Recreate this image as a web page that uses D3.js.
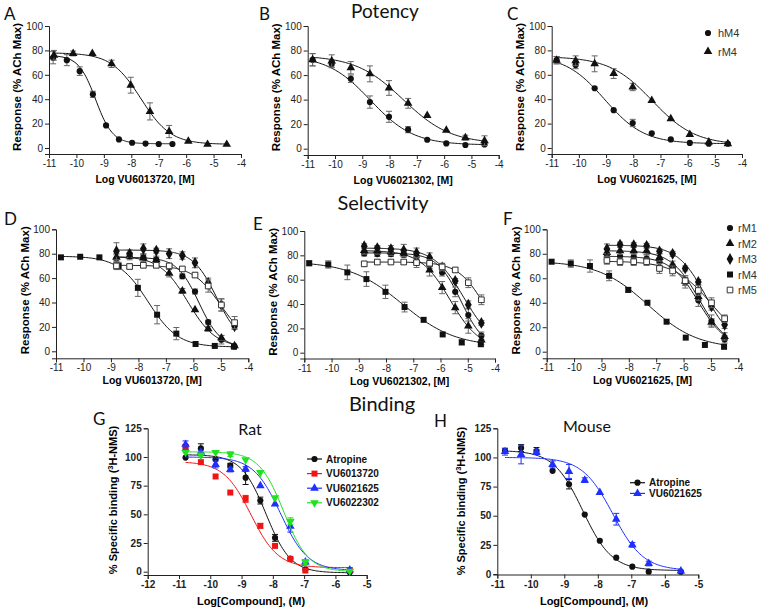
<!DOCTYPE html>
<html>
<head>
<meta charset="utf-8">
<script src="https://cdn.jsdelivr.net/npm/d3@7"></script>
<style>
body { margin: 0; background: #fff; }
svg text { font-family: "Liberation Sans", Arial, sans-serif; }
.big { font-family: Lato, "Open Sans", sans-serif; }
</style>
</head>
<body>
<svg id="fig" width="760" height="607"></svg>
<script>
// ---- tick labels ----
var xTicksLog = [-11, -10, -9, -8, -7, -6, -5, -4];
var xTicksRat = [-12, -11, -10, -9, -8, -7, -6, -5];
var xTicksMouse = [-11, -10, -9, -8, -7, -6, -5];
var yTicksResp = [0, 20, 40, 60, 80, 100];
var yTicksBind = [0, 25, 50, 75, 100, 125];

// ---- concentrations (log M) ----
var xPot = [-10.82, -10.12, -9.42, -8.72, -8.02, -7.32, -6.62, -5.92, -5.22, -4.52];
var xPotA_h = [-10.85, -10.35, -9.88, -9.4, -8.92, -8.45, -7.97, -7.48, -7.0, -6.5];
var xSel = [-8.8, -8.32, -7.82, -7.35, -6.88, -6.4, -5.94, -5.46, -4.98, -4.5];
var xRat = [-10.79, -10.3, -9.83, -9.36, -8.87, -8.4, -7.93, -7.44, -6.96, -5.54];
var xMouse = [-10.77, -10.29, -9.83, -9.35, -8.86, -8.39, -7.94, -7.45, -6.97, -6.48, -5.52];

// ---- Potency (hM4 / rM4), mean and SEM ----
var potA_h = [74, 72, 63, 44, 18.5, 7, 4.3, 3.6, 3.3, 3.3];
var potA_hErr = [5, 4.5, 3.5, 2.5, 1, 0, 0, 0, 0, 0];
var potA_r = [76, 77.5, 77.5, 69, 51.5, 30, 13.5, 5.5, 3, 3];
var potA_rErr = [4, 2, 1, 3, 6.5, 7, 5, 1, 1, 1];
var potB_h = [72.5, 69, 57, 38, 26, 15.5, 7.3, 4.3, 3, 3.5];
var potB_hErr = [5, 3, 3, 5, 4.5, 2.5, 1, 0, 0, 1];
var potB_r = [72.5, 71.5, 66, 61, 49.5, 37, 27, 15, 9, 6.5];
var potB_rErr = [5, 5, 5, 6.5, 6, 4, 1, 1, 2, 4];
var potC_h = [72, 68, 49, 31, 20.5, 12, 7, 4.2, 3.5, 3.5];
var potC_hErr = [3, 3, 1, 1, 3, 1, 0, 0, 0, 0];
var potC_r = [72, 71.5, 69, 61, 50, 39, 24, 11, 5, 3.5];
var potC_rErr = [3, 4, 6.5, 4, 3, 1, 1, 1, 1, 0];

// ---- Selectivity (rM1-rM5) ----
var selD_m1 = [76, 78, 77, 75, 70, 61.5, 49, 24, 9.5, 4];
var selD_m2 = [77, 78, 76.5, 75, 64, 49.5, 34, 18.5, 11, 4.5];
var selD_m3 = [82, 80, 84, 82.5, 80, 78.5, 72.5, 56, 38, 20.5];
var selD_m4 = [77, 77.5, 77, 70, 52, 30, 14.5, 6, 4.4, 3.8];
var selD_m5 = [70, 69.5, 70.5, 70.5, 70, 67.5, 62.5, 53.5, 38, 23.5];
var selD_err = [[3, 2, 2, 2, 2, 2, 2, 1.5, 3.5, 1], [3, 3, 3, 3, 3, 2, 1, 2, 2, 1],
  [7, 3, 4, 2, 4, 3, 4, 4, 5, 2.5], [1, 1, 1, 3, 7, 7.5, 5, 1, 1, 1], [3, 2, 2, 2, 2, 2, 2, 5, 5, 5]];

var selE_m1 = [81.5, 81, 81, 80.5, 79, 72, 66, 50, 31, 14];
var selE_m2 = [84, 84, 83, 82, 76, 68, 53.5, 37, 22, 10.5];
var selE_m3 = [87.5, 86, 85, 84, 82, 78, 70, 59, 39.5, 24.5];
var selE_m4 = [73.5, 72.5, 66, 60.5, 50, 37.5, 27, 15, 8.5, 7];
var selE_m5 = [73, 74.5, 74.5, 74.5, 74, 73.5, 70.5, 68, 57.5, 43.5];
var selE_err = [[2, 2, 2, 2, 3, 3, 3, 4, 5, 3], [3, 3, 3, 3, 3, 5, 5, 5, 6, 4],
  [2, 2, 3, 5, 4, 4, 3, 2, 3, 2], [2, 3, 6, 6, 5.5, 4, 1, 1, 2, 2], [2, 2, 2, 2, 4, 3, 3, 2, 4, 4]];

var selF_m1 = [78, 78, 77.5, 76, 73.5, 68.5, 57, 42, 25, 10];
var selF_m2 = [81, 82.5, 82.5, 82.5, 77, 71, 57.5, 45, 24, 12.5];
var selF_m3 = [84, 87.5, 87, 86.5, 82, 80, 68, 57, 37, 22];
var selF_m4 = [73.5, 72, 70, 62, 50.5, 40, 24.5, 11.5, 5.5, 4];
var selF_m5 = [74.5, 73.5, 73.5, 73.5, 68, 66, 58, 50, 40, 27];
var selF_err = [[3, 3, 3, 3, 3, 3, 5, 5, 5, 3], [3, 3, 3, 3, 3, 3, 3, 3, 3, 3],
  [4, 2, 2, 2, 2, 2, 2, 2, 3, 3], [1, 3, 5, 4, 2, 1, 1, 1, 0, 1], [3, 3, 3, 3, 4, 4, 4, 4, 4, 3]];

// ---- Binding (% specific [3H]-NMS) ----
var ratAtropine = [99.5, 107.5, 98, 92.5, 82, 62, 29.5, 11.5, 2, -0.5];
var ratAtropineErr = [0, 4, 0, 2, 6, 3, 3, 1, 1, 0];
var rat13720 = [108.5, 95.5, 83, 69, 63.5, 40, 22.5, 11, 1, 1.5];
var rat13720Err = [2, 1, 1, 1, 3, 2, 1, 0, 0, 0];
var rat21625 = [111, 104, 93.5, 89, 89.5, 75, 59, 39.5, 8.5, 1.5];
var rat21625Err = [3, 2, 3, 2, 2, 1, 1, 5, 2, 1];
var rat22302 = [104, 101.5, 104, 102.5, 97.5, 86.5, 64.5, 44, 8.5, 0.5];
var rat22302Err = [1, 1, 1, 2, 1, 1, 1, 3, 2, 1];
var mouseAtropine = [105.5, 108, 105.5, 88.5, 77, 51, 28.5, 14, 6.3, 2, 2];
var mouseAtropineErr = [2, 3, 3, 1, 4, 1, 1, 1, 1, 0, 0];
var mouse21625 = [105, 102.5, 104.5, 94, 88, 80.5, 70, 47, 25, 9, 2.5];
var mouse21625Err = [3, 8, 2, 3, 6, 2, 1, 5, 2, 2, 1];

// ---- fitted curves: [top, bottom, logIC50, hill] ----
var fitA = [[76, 3.5, -9.3, 1.4], [78, 3, -7.65, 0.8]];
var fitB = [[76, 3, -8.7, 0.55], [76, 4, -7.5, 0.5]];
var fitC = [[76, 3.5, -9.05, 0.6], [75, 2.5, -7.3, 0.55]];
var fitD = [[77, 3, -5.8, 1.1], [78, 3, -6.2, 0.85], [83, 5, -5.15, 1.0], [78, 3.5, -7.65, 0.8], [70.5, 5, -5.0, 0.85]];
var fitE = [[82, 3, -5.25, 1.0], [84, 3, -5.65, 0.8], [86, 5, -5.15, 0.8], [75, 5, -7.4, 0.45], [74.5, 5, -4.4, 0.9]];
var fitF = [[78, 3, -5.45, 0.85], [82.5, 3, -5.43, 0.85], [87, 5, -5.2, 0.85], [74, 2.5, -7.3, 0.48], [74, 5, -5.0, 0.65]];
var fitRat = [[102, -1, -8.22, 1.1], [96, 3.5, -8.7, 1.0], [100, 1, -7.75, 1.0], [104.5, 0, -7.65, 1.1]];
var fitMouse = [[106, 3, -8.45, 1.0], [100, 3, -7.55, 0.95]];

var potNames = ["hM4", "rM4"];
var selNames = ["rM1", "rM2", "rM3", "rM4", "rM5"];
var ratNames = ["Atropine", "VU6013720", "VU6021625", "VU6022302"];
var mouseNames = ["Atropine", "VU6021625"];

var svg = d3.select("#fig");

var symbols = {
  circle: {type: d3.symbolCircle, size: 30},
  triangle: {type: d3.symbolTriangle, size: 32},
  diamond: {type: d3.symbolDiamond, size: 40},
  square: {type: d3.symbolSquare, size: 36},
  openSquare: {type: d3.symbolSquare, size: 32},
  down: {type: d3.symbolTriangle, size: 32}
};

function logistic(p) {
  return function(x) { return p[1] + (p[0] - p[1]) / (1 + Math.pow(10, (x - p[2]) * p[3])); };
}

function marker(g, shape, cx, cy, color) {
  var s = symbols[shape];
  var rot = shape == "down" ? " rotate(180)" : "";
  g.append("path")
    .attr("d", d3.symbol().type(s.type).size(s.size)())
    .attr("transform", "translate(" + cx + "," + cy + ")" + rot)
    .attr("fill", shape == "openSquare" ? "#fff" : color)
    .attr("stroke", shape == "openSquare" ? "#333" : "none")
    .attr("stroke-width", 1);
}

function drawPanel(cfg) {
  var g = svg.append("g");
  var x = d3.scaleLinear().domain(cfg.xDomain).range([cfg.left, cfg.right]);
  var y = d3.scaleLinear().domain([0, cfg.yMax]).range([cfg.y0, cfg.yTop]);
  y.domain([y.invert(cfg.axisY), cfg.yMax]).range([cfg.axisY, cfg.yTop]);

  var xa = g.append("g")
    .attr("transform", "translate(0," + cfg.axisY + ")")
    .call(d3.axisBottom(x).tickValues(cfg.xTicks).tickSize(4).tickPadding(2).tickFormat(String));
  var ya = g.append("g")
    .attr("transform", "translate(" + cfg.left + ",0)")
    .call(d3.axisLeft(y).tickValues(cfg.yTicks).tickSize(4).tickPadding(2).tickFormat(String));
  [xa, ya].forEach(function(a) {
    a.selectAll("path, line").attr("stroke", "#222");
    a.selectAll("text")
      .attr("fill", "#222")
      .style("font-size", "10px")
      .style("font-weight", cfg.boldTicks ? "bold" : "normal");
  });

  // axis titles
  g.append("text")
    .attr("x", cfg.xTitleX || (cfg.left + cfg.right) / 2)
    .attr("y", cfg.axisY + cfg.xTitleDy)
    .attr("text-anchor", "middle")
    .style("font-size", cfg.xTitleSize + "px")
    .style("font-weight", "bold")
    .text(cfg.xTitle);
  var yt = g.append("text")
    .attr("transform", "translate(" + (cfg.left - cfg.yTitleDx) + "," + ((cfg.y0 + cfg.yTop) / 2) + ") rotate(-90)")
    .attr("text-anchor", "middle")
    .style("font-size", cfg.yTitleSize + "px")
    .style("font-weight", "bold");
  cfg.yTitle.forEach(function(part) {
    var t = yt.append("tspan").text(part.t);
    if (part.sup) t.attr("baseline-shift", "super").style("font-size", "7.5px");
  });

  cfg.series.forEach(function(s) {
    var f = logistic(s.fit);
    var lo = s.from != null ? s.from : d3.min(s.x);
    var hi = s.to != null ? s.to : d3.max(s.x);
    var xs = d3.range(0, 121).map(function(i) { return lo + (hi - lo) * i / 120; });
    g.append("path")
      .datum(xs)
      .attr("d", d3.line().x(function(d) { return x(d); }).y(function(d) { return y(f(d)); }))
      .attr("fill", "none")
      .attr("stroke", s.color)
      .attr("stroke-width", 1);

    var eg = g.append("g").attr("stroke", s.errColor || "#666").attr("stroke-width", 1);
    s.y.forEach(function(v, i) {
      var e = s.err[i];
      if (!e || e < 1.5) return;
      var cx = x(s.x[i]);
      eg.append("line").attr("x1", cx).attr("x2", cx).attr("y1", y(v - e)).attr("y2", y(v + e));
      eg.append("line").attr("x1", cx - 3).attr("x2", cx + 3).attr("y1", y(v - e)).attr("y2", y(v - e));
      eg.append("line").attr("x1", cx - 3).attr("x2", cx + 3).attr("y1", y(v + e)).attr("y2", y(v + e));
    });
    s.y.forEach(function(v, i) {
      marker(g, s.shape, x(s.x[i]), y(v), s.color);
    });
  });
}

function bigText(txt, x, y, size, anchor) {
  svg.append("text").attr("class", "big")
    .attr("x", x).attr("y", y)
    .attr("text-anchor", anchor || "start")
    .style("font-size", size + "px")
    .attr("fill", "#111")
    .text(txt);
}

var respTitle = [{t: "Response (% ACh Max)"}];
var bindTitle = [{t: "% Specific binding ("}, {t: "3", sup: true}, {t: "H-NMS)"}];

function potPanel(left, right, y0, axisY, title, hY, hE, rY, rE, hX, fits, hTo) {
  drawPanel({
    xDomain: [-11, -4], left: left, right: right, yMax: 100, y0: y0, yTop: 26, axisY: axisY,
    xTicks: xTicksLog, yTicks: yTicksResp, xTitle: title, xTitleDy: 29, xTitleSize: 10.5,
    yTitle: respTitle, yTitleDx: 28, yTitleSize: 11.5,
    series: [
      {x: hX, y: hY, err: hE, fit: fits[0], shape: "circle", color: "#111", from: hX[0], to: hTo},
      {x: xPot, y: rY, err: rE, fit: fits[1], shape: "triangle", color: "#111"}
    ]
  });
}

potPanel(49, 241, 148, 154, "Log VU6013720, [M]", potA_h, potA_hErr, potA_r, potA_rErr, xPotA_h, fitA, -6.5);
potPanel(307.7, 498.7, 148.7, 155, "Log VU6021302, [M]", potB_h, potB_hErr, potB_r, potB_rErr, xPot, fitB);
potPanel(551.7, 742, 148, 154, "Log VU6021625, [M]", potC_h, potC_hErr, potC_r, potC_rErr, xPot, fitC);

var selShapes = ["circle", "triangle", "diamond", "square", "openSquare"];

function selPanel(left, right, y0, yTop, axisY, title, vals, errs, fits) {
  drawPanel({
    xDomain: [-11, -4], left: left, right: right, yMax: 100, y0: y0, yTop: yTop, axisY: axisY,
    xTicks: xTicksLog, yTicks: yTicksResp, xTitle: title, xTitleDy: 26, xTitleSize: 10.5,
    yTitle: respTitle, yTitleDx: 27, yTitleSize: 11.5,
    series: vals.map(function(v, i) {
      return {x: i == 3 ? xPot : xSel, y: v, err: errs[i], fit: fits[i], shape: selShapes[i], color: "#111"};
    })
  });
}

selPanel(56, 248.3, 351.3, 229.3, 358.3, "Log VU6013720, [M]",
  [selD_m1, selD_m2, selD_m3, selD_m4, selD_m5], selD_err, fitD);
selPanel(304.3, 495, 352.7, 231, 358.5, "Log VU6021302, [M]",
  [selE_m1, selE_m2, selE_m3, selE_m4, selE_m5], selE_err, fitE);
selPanel(546.7, 738.3, 351.7, 229.3, 358.3, "Log VU6021625, [M]",
  [selF_m1, selF_m2, selF_m3, selF_m4, selF_m5], selF_err, fitF);

// binding panels
var ratColors = ["#111", "#f01414", "#1f2fff", "#22e022"];
var ratShapes = ["circle", "square", "triangle", "down"];
var ratVals = [ratAtropine, rat13720, rat21625, rat22302];
var ratErrs = [ratAtropineErr, rat13720Err, rat21625Err, rat22302Err];

drawPanel({
  xDomain: [-12, -5], left: 147.7, right: 366.7, yMax: 125, y0: 571.7, yTop: 428.3, axisY: 575,
  xTicks: xTicksRat, yTicks: yTicksBind, boldTicks: true,
  xTitle: "Log[Compound], (M)", xTitleX: 251, xTitleDy: 30, xTitleSize: 11,
  yTitle: bindTitle, yTitleDx: 31, yTitleSize: 11,
  series: ratVals.map(function(v, i) {
    return {x: xRat, y: v, err: ratErrs[i], fit: fitRat[i], shape: ratShapes[i], color: ratColors[i], errColor: ratColors[i]};
  })
});

var mouseColors = ["#111", "#1f2fff"];
var mouseShapes = ["circle", "triangle"];
drawPanel({
  xDomain: [-11, -5], left: 497.3, right: 698.3, yMax: 125, y0: 574, yTop: 428.3, axisY: 574.5,
  xTicks: xTicksMouse, yTicks: yTicksBind, boldTicks: true,
  xTitle: "Log[Compound], (M)", xTitleX: 594, xTitleDy: 30, xTitleSize: 11,
  yTitle: bindTitle, yTitleDx: 32, yTitleSize: 11,
  series: [mouseAtropine, mouse21625].map(function(v, i) {
    return {x: xMouse, y: v, err: [mouseAtropineErr, mouse21625Err][i], fit: fitMouse[i], shape: mouseShapes[i], color: mouseColors[i], errColor: mouseColors[i]};
  })
});

// legends
function markerLegend(names, shapes, mx, tx, y0, dy) {
  var g = svg.append("g");
  names.forEach(function(n, i) {
    marker(g, shapes[i], mx, y0 + i * dy, "#111");
    g.append("text").attr("x", tx).attr("y", y0 + i * dy + 4)
      .style("font-size", "11px").attr("fill", "#333").text(n);
  });
}
markerLegend(potNames, ["circle", "triangle"], 708, 718, 33, 18.5);
markerLegend(selNames, selShapes, 730, 738, 228, 15.5);

function lineLegend(names, shapes, colors, lx, y0, dy) {
  var g = svg.append("g");
  names.forEach(function(n, i) {
    var yy = y0 + i * dy;
    g.append("line").attr("x1", lx).attr("x2", lx + 15).attr("y1", yy).attr("y2", yy)
      .attr("stroke", colors[i]).attr("stroke-width", 1.2);
    marker(g, shapes[i], lx + 7.5, yy, colors[i]);
    g.append("text").attr("x", lx + 19).attr("y", yy + 3.5)
      .style("font-size", "10px").style("font-weight", "bold").attr("fill", "#111").text(n);
  });
}
lineLegend(ratNames, ratShapes, ratColors, 307, 459, 14.6);
lineLegend(mouseNames, mouseShapes, mouseColors, 630, 482.7, 10.7);

// section titles and panel letters
bigText("Potency", 385, 18, 19, "middle");
bigText("Selectivity", 383, 210, 20, "middle");
bigText("Binding", 382, 411, 20, "middle");
bigText("Rat", 250, 435, 16, "middle");
bigText("Mouse", 587, 432, 16, "middle");
bigText("A", 4, 20, 17);
bigText("B", 259, 20, 17);
bigText("C", 507, 20, 17);
bigText("D", 4, 225, 17);
bigText("E", 253, 230, 17);
bigText("F", 503, 225, 17);
bigText("G", 93, 425, 17);
bigText("H", 434, 427, 17);
</script>
</body>
</html>
